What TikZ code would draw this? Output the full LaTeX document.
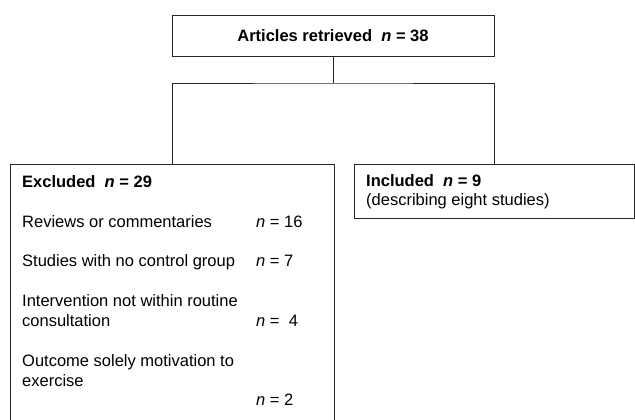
\documentclass[tikz,border=0pt]{standalone}
\usepackage{fontspec}
\setmainfont{Liberation Sans}
\begin{document}
\begin{tikzpicture}[
        x=1pt, y=1pt,
        font=\fontsize{16.5}{20}\selectfont,
        box/.style={rectangle, draw=black!85, line width=0.9pt, inner sep=0pt},
        txt/.style={anchor=base west, inner sep=0pt},
        link/.style={draw=black!85, line width=0.9pt}
    ]
    \clip (0,0) rectangle (635,-420);
    \node[box, minimum width=322pt, minimum height=41pt] (top) at (333,-35.5)
        {\textbf{Articles retrieved\ \ \textit{n} = 38}};
    \node[box, minimum width=324pt, minimum height=276pt] (excl) at (172,-302) {};
    \node[box, minimum width=280pt, minimum height=54pt] (incl) at (494,-191) {};
    \coordinate (split) at (333,-83);
    \draw[link] (top.south) -- (split);
    \draw[link] (excl.north) |- (split) -| (incl.north);
    \node[txt] (exhead) at (22,-187) {\textbf{Excluded\ \ \textit{n} = 29}};
    \node[txt] (rev) at (22,-227) {Reviews or commentaries};
    \node[txt] (revn) at (256,-227) {\textit{n} = 16};
    \node[txt] (ctrl) at (22,-266) {Studies with no control group};
    \node[txt] (ctrln) at (256,-266) {\textit{n} = 7};
    \node[txt] (intv) at (22,-306) {Intervention not within routine};
    \node[txt] (cons) at (22,-326) {consultation};
    \node[txt] (intvn) at (256,-326) {\textit{n} =\ \ 4};
    \node[txt] (outc) at (22,-366) {Outcome solely motivation to};
    \node[txt] (exer) at (22,-386) {exercise};
    \node[txt] (outcn) at (256,-405) {\textit{n} = 2};
    \node[txt] (inhead) at (366,-186) {\textbf{Included\ \ \textit{n} = 9}};
    \node[txt] (indesc) at (366,-205) {(describing eight studies)};
\end{tikzpicture}
\end{document}
